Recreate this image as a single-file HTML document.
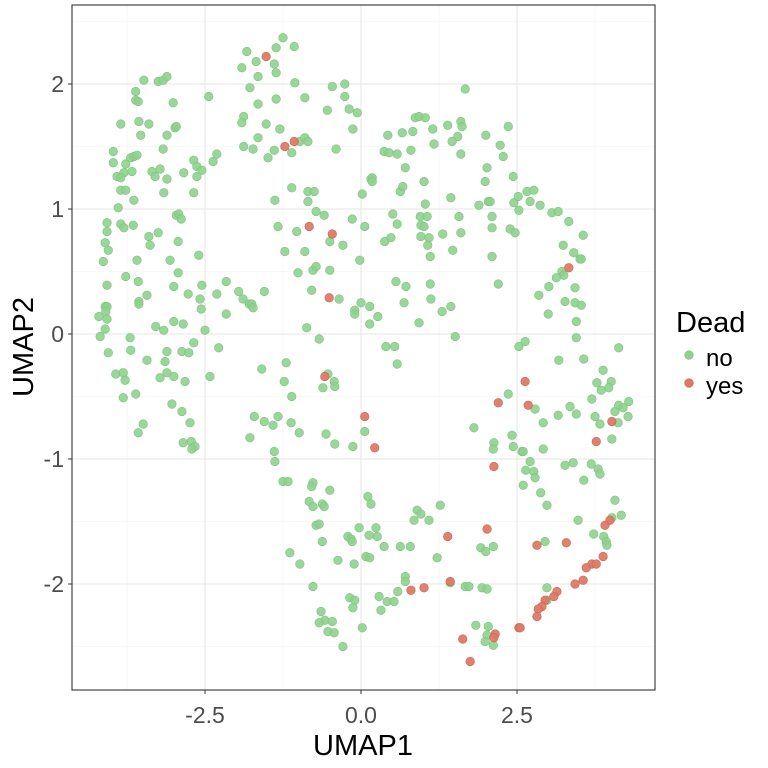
<!DOCTYPE html>
<html><head><meta charset="utf-8"><style>
html,body{margin:0;padding:0;background:#fff;}
svg{display:block;font-family:"Liberation Sans",Arial,sans-serif;}
</style></head><body>
<svg id="chart" width="768" height="768" viewBox="0 0 768 768" xmlns="http://www.w3.org/2000/svg">
<rect x="0" y="0" width="768" height="768" fill="#fff"/>
<g id="grid"></g>
<g id="points"></g>
<rect x="72" y="5" width="583" height="685" fill="none" stroke="#333" stroke-width="1.1"/>
<g id="axes"></g>
<text x="363" y="755" font-size="29" text-anchor="middle" fill="#000">UMAP1</text>
<text transform="translate(33,347) rotate(-90)" font-size="29" text-anchor="middle" fill="#000">UMAP2</text>
<g>
<text x="676" y="332" font-size="29" fill="#000">Dead</text>
<circle cx="689" cy="355" r="4.3" fill="#8ed28e" stroke="#7cc27c" stroke-width="0.6"/>
<text x="706" y="366" font-size="24" fill="#000">no</text>
<circle cx="689" cy="383" r="4.3" fill="#dc7a66" stroke="#cc6452" stroke-width="0.6"/>
<text x="706" y="394" font-size="24" fill="#000">yes</text>
</g>
</svg>
<script>
const xTicks=[-2.5,0,2.5];
const xTickLabels=["-2.5","0.0","2.5"];
const yTicks=[-2,-1,0,1,2];
const yTickLabels=["-2","-1","0","1","2"];
const xMinor=[-3.75,-1.25,1.25,3.75];
const yMinor=[-2.5,-1.5,-0.5,0.5,1.5,2.5];
const deadNo=[[-1.25,2.37],[-1.83,2.26],[-1.36,2.29],[-1.07,2.30],[-1.68,2.18],[-1.39,2.16],[-1.91,2.13],[-1.65,2.06],[-1.36,2.09],[-1.06,2.01],[-1.78,1.97],[-3.48,2.03],[-3.25,2.02],[-3.17,2.03],[-3.11,2.06],[-3.61,1.94],[-3.61,1.87],[-3.57,1.86],[-3.01,1.85],[-2.44,1.90],[-1.36,1.88],[-1.65,1.84],[-0.90,1.89],[-0.46,1.98],[-0.26,2.00],[-0.26,1.90],[-0.54,1.79],[-0.19,1.80],[-0.06,1.77],[-3.85,1.68],[-3.56,1.70],[-3.40,1.68],[-3.53,1.59],[-3.11,1.59],[-2.98,1.65],[-2.96,1.66],[-1.88,1.74],[-1.91,1.69],[-1.52,1.68],[-1.30,1.64],[-0.13,1.64],[-1.65,1.57],[-1.88,1.50],[-1.73,1.48],[-1.39,1.47],[-0.98,1.54],[-0.90,1.57],[-0.85,1.54],[-1.11,1.45],[-1.49,1.41],[-0.40,1.48],[-3.97,1.46],[-3.97,1.37],[-3.17,1.48],[-3.77,1.36],[-3.69,1.41],[-3.64,1.42],[-3.59,1.43],[-3.67,1.30],[-3.80,1.29],[-3.91,1.26],[-3.85,1.25],[-3.35,1.30],[-3.30,1.26],[-3.22,1.32],[-3.11,1.24],[-2.84,1.29],[-2.68,1.39],[-2.63,1.34],[-2.55,1.31],[-2.63,1.26],[-2.37,1.38],[-2.31,1.44],[-3.85,1.15],[-3.77,1.15],[-3.64,1.07],[-3.16,1.13],[-2.68,1.13],[-1.11,1.17],[-1.38,1.07],[-0.85,1.14],[-0.75,1.14],[-0.85,1.06],[0.02,1.12],[0.16,1.24],[-3.89,1.01],[-4.07,0.89],[-4.07,0.82],[-3.85,0.88],[-3.80,0.85],[-3.65,0.87],[-2.96,0.95],[-2.92,0.96],[-2.88,0.92],[-0.72,0.98],[-0.59,0.95],[-0.14,0.92],[0.06,0.86],[-1.33,0.86],[-1.03,0.82],[-0.50,0.74],[-0.29,0.71],[-4.10,0.73],[-4.05,0.67],[-3.40,0.78],[-3.25,0.81],[-3.38,0.71],[-2.93,0.74],[-4.13,0.58],[-3.59,0.59],[-3.06,0.59],[-2.60,0.63],[-1.22,0.66],[-0.90,0.66],[-0.02,0.59],[-1.01,0.49],[-0.77,0.51],[-0.72,0.54],[-0.50,0.51],[-4.07,0.39],[-3.77,0.46],[-3.57,0.42],[-2.93,0.49],[-3.00,0.38],[-2.55,0.39],[-2.16,0.42],[-1.96,0.34],[-1.55,0.34],[-2.77,0.32],[-2.31,0.32],[-3.43,0.31],[-3.56,0.26],[-3.56,0.24],[-2.58,0.28],[-2.56,0.20],[-1.89,0.28],[-1.79,0.24],[-1.75,0.24],[-1.73,0.21],[-2.16,0.16],[-0.79,0.35],[-0.35,0.28],[0.00,0.25],[-0.10,0.19],[-0.10,0.16],[0.14,0.22],[-4.10,0.22],[-4.07,0.22],[-4.09,0.18],[-4.07,0.12],[-4.20,0.14],[-4.10,0.04],[-4.18,-0.02],[-3.29,0.06],[-3.16,0.03],[-3.00,0.10],[-2.85,0.08],[-2.50,0.03],[-0.87,0.05],[-0.67,-0.04],[0.14,0.08],[-3.70,-0.03],[-3.69,-0.13],[-4.05,-0.15],[-3.11,-0.14],[-2.87,-0.14],[-2.76,-0.15],[-2.68,-0.07],[-2.28,-0.11],
[1.67,1.96],[0.87,1.73],[0.93,1.74],[1.03,1.73],[1.15,1.64],[1.39,1.67],[1.60,1.70],[1.62,1.66],[1.55,1.58],[1.46,1.54],[1.17,1.52],[0.83,1.62],[0.66,1.61],[0.43,1.59],[0.37,1.46],[0.45,1.45],[0.58,1.44],[0.80,1.47],[0.71,1.33],[1.60,1.44],[2.00,1.59],[2.36,1.66],[2.23,1.51],[2.28,1.42],[2.02,1.33],[1.99,1.22],[2.44,1.26],[0.18,1.25],[0.18,1.22],[0.63,1.14],[0.67,1.18],[1.01,1.22],[1.03,1.04],[1.44,1.09],[1.89,1.03],[2.04,1.06],[2.07,1.06],[2.45,1.05],[2.52,1.10],[2.66,1.14],[2.77,1.15],[2.71,1.06],[2.87,1.03],[2.53,0.99],[3.06,0.97],[3.16,0.98],[3.33,0.90],[3.56,0.79],[0.51,0.96],[0.58,0.88],[0.95,0.94],[1.06,0.94],[0.96,0.87],[1.01,0.86],[1.57,0.94],[1.60,0.81],[1.31,0.80],[2.10,0.94],[2.10,0.85],[2.39,0.84],[2.47,0.81],[0.38,0.74],[0.48,0.77],[0.96,0.78],[1.09,0.77],[1.07,0.71],[1.11,0.62],[1.47,0.67],[2.10,0.62],[3.24,0.71],[3.41,0.65],[3.51,0.60],[3.53,0.60],[3.22,0.50],[3.25,0.47],[3.13,0.45],[3.01,0.38],[2.85,0.31],[3.43,0.37],[3.27,0.26],[3.43,0.25],[3.53,0.23],[3.00,0.16],[3.45,0.10],[3.45,-0.03],[0.56,0.42],[0.72,0.38],[1.11,0.40],[1.12,0.28],[0.69,0.25],[0.27,0.14],[0.93,0.09],[1.30,0.18],[1.44,0.22],[1.51,-0.02],[2.20,0.40],[2.63,-0.06],[2.53,-0.10],[0.40,-0.10],[0.54,-0.10],[4.13,-0.11],[3.17,-0.21],[3.57,-0.20],
[-3.43,-0.21],[-3.14,-0.22],[-3.93,-0.32],[-3.81,-0.31],[-3.78,-0.37],[-3.22,-0.35],[-3.11,-0.31],[-3.00,-0.34],[-2.82,-0.38],[-2.42,-0.34],[-3.81,-0.51],[-3.61,-0.48],[-3.03,-0.56],[-2.87,-0.62],[-2.74,-0.71],[-3.49,-0.72],[-3.57,-0.79],[-2.85,-0.87],[-2.72,-0.86],[-2.66,-0.90],[-2.71,-0.92],[-1.59,-0.28],[-1.20,-0.23],[-1.23,-0.38],[-1.11,-0.50],[-0.53,-0.32],[-0.43,-0.38],[-0.42,-0.42],[-0.61,-0.43],[0.06,-0.78],[-1.71,-0.66],[-1.55,-0.70],[-1.41,-0.73],[-1.33,-0.66],[-1.12,-0.71],[-0.99,-0.79],[-1.78,-0.83],[-1.39,-0.94],[-1.38,-1.02],[-0.56,-0.80],[-0.42,-0.88],[-0.13,-0.90],[-1.25,-1.18],[-1.17,-1.18],[-0.77,-1.19],[-0.79,-1.22],[-0.50,-1.25],[-0.83,-1.34],[-0.77,-1.38],[-0.62,-1.36],[-0.59,-1.38],[0.11,-1.30],[0.16,-1.36],[-0.72,-1.53],[-0.67,-1.52],[-0.62,-1.66],[-0.03,-1.55],[0.13,-1.61],[-0.21,-1.62],[-0.16,-1.64],[-0.14,-1.66],[-1.14,-1.75],[-0.98,-1.84],[-0.37,-1.81],[-0.11,-1.84],[0.08,-1.78],[0.14,-1.79],[-0.77,-2.02],[-0.18,-2.11],[-0.10,-2.13],[-0.13,-2.19],[-0.64,-2.22],[-0.58,-2.29],[-0.46,-2.30],[-0.67,-2.31],[-0.53,-2.38],[-0.43,-2.39],[0.02,-2.35],[-0.29,-2.50],
[0.58,-0.24],[3.88,-0.29],[3.78,-0.39],[4.01,-0.38],[3.97,-0.43],[3.85,-0.45],[3.70,-0.52],[4.13,-0.57],[4.20,-0.59],[4.29,-0.54],[4.07,-0.62],[4.28,-0.66],[4.12,-0.71],[3.83,-0.72],[3.75,-0.66],[4.02,-0.84],[2.36,-0.48],[2.79,-0.60],[2.92,-0.71],[3.16,-0.65],[3.35,-0.58],[3.45,-0.64],[1.81,-0.75],[2.13,-0.87],[2.12,-0.92],[2.42,-0.81],[2.44,-0.90],[2.58,-0.94],[2.60,-0.94],[2.92,-0.92],[2.71,-1.02],[2.64,-1.09],[2.77,-1.10],[2.79,-1.15],[2.60,-1.21],[2.88,-1.27],[2.98,-1.37],[3.27,-1.05],[3.40,-1.03],[3.69,-1.04],[3.80,-1.08],[3.83,-1.12],[3.57,-1.17],[4.07,-1.33],[4.02,-1.47],[4.17,-1.45],[3.48,-1.49],[3.73,-1.60],[3.89,-1.62],[3.93,-1.66],[3.94,-1.69],[2.95,-1.66],[0.24,-1.55],[0.26,-1.62],[0.37,-1.70],[0.63,-1.70],[0.79,-1.70],[0.85,-1.49],[0.90,-1.41],[0.96,-1.44],[1.09,-1.49],[1.27,-1.37],[1.22,-1.79],[1.92,-1.71],[2.00,-1.74],[2.12,-1.70],[0.71,-1.94],[0.71,-1.98],[0.59,-2.06],[0.29,-2.10],[0.42,-2.14],[0.53,-2.14],[0.32,-2.21],[1.43,-1.99],[1.67,-2.02],[1.73,-2.02],[1.94,-2.03],[2.02,-2.04],[2.98,-2.03],[2.98,-2.13],[1.84,-2.33],[2.04,-2.34],[2.02,-2.41],[1.99,-2.46],[2.12,-2.49]];
const deadYes=[[-1.52,2.22],[-1.22,1.50],[-1.07,1.54],[-0.83,0.86],[-0.46,0.80],[-0.51,0.29],[-0.58,-0.34],[0.06,-0.66],[0.22,-0.91],[3.33,0.53],[2.63,-0.38],[2.20,-0.55],[2.68,-0.57],[4.02,-0.70],[3.77,-0.86],[2.13,-1.06],[3.99,-1.49],[3.91,-1.53],[3.88,-1.78],[3.70,-1.84],[3.77,-1.84],[3.61,-1.87],[3.56,-1.97],[3.43,-2.00],[3.29,-1.67],[2.82,-1.69],[2.02,-1.56],[1.39,-1.62],[0.80,-2.05],[1.01,-2.03],[1.43,-1.98],[3.14,-2.06],[3.09,-2.10],[2.95,-2.13],[2.90,-2.18],[2.84,-2.20],[2.82,-2.26],[2.53,-2.35],[2.55,-2.35],[2.15,-2.40],[2.13,-2.43],[1.63,-2.44],[1.75,-2.62]];

const NS='http://www.w3.org/2000/svg';
const X0=72,X1=655,Y0=5,Y1=690;
function sx(v){return 361+v*62.4;}
function sy(v){return 334-v*125;}
const grid=document.getElementById('grid');
const axes=document.getElementById('axes');
const pts=document.getElementById('points');
function mk(tag,parent){const e=document.createElementNS(NS,tag);parent.appendChild(e);return e;}
xMinor.forEach(v=>{const l=mk('line',grid);


l.setAttribute('x1',sx(v));l.setAttribute('x2',sx(v));l.setAttribute('y1',Y0);l.setAttribute('y2',Y1);l.setAttribute('stroke','#f2f2f2');l.setAttribute('stroke-width','0.6');});
yMinor.forEach(v=>{const l=mk('line',grid);


l.setAttribute('x1',X0);l.setAttribute('x2',X1);l.setAttribute('y1',sy(v));l.setAttribute('y2',sy(v));l.setAttribute('stroke','#f2f2f2');l.setAttribute('stroke-width','0.6');});
xTicks.forEach((v,i)=>{const l=mk('line',grid);


l.setAttribute('x1',sx(v));l.setAttribute('x2',sx(v));l.setAttribute('y1',Y0);l.setAttribute('y2',Y1);l.setAttribute('stroke','#e6e6e6');l.setAttribute('stroke-width','1.1');
const t=mk('line',axes);


t.setAttribute('x1',sx(v));t.setAttribute('x2',sx(v));t.setAttribute('y1',Y1);t.setAttribute('y2',Y1+4);t.setAttribute('stroke','#333');
const tx=mk('text',axes);


tx.setAttribute('x',sx(v));tx.setAttribute('y',723);tx.setAttribute('font-size','23');tx.setAttribute('text-anchor','middle');tx.setAttribute('fill','#4d4d4d');tx.textContent=xTickLabels[i];});
yTicks.forEach((v,i)=>{const l=mk('line',grid);


l.setAttribute('x1',X0);l.setAttribute('x2',X1);l.setAttribute('y1',sy(v));l.setAttribute('y2',sy(v));l.setAttribute('stroke','#e6e6e6');l.setAttribute('stroke-width','1.1');
const t=mk('line',axes);


t.setAttribute('x1',X0-4);t.setAttribute('x2',X0);t.setAttribute('y1',sy(v));t.setAttribute('y2',sy(v));t.setAttribute('stroke','#333');
const tx=mk('text',axes);


tx.setAttribute('x',64);tx.setAttribute('y',sy(v)+8);tx.setAttribute('font-size','23');tx.setAttribute('text-anchor','end');tx.setAttribute('fill','#4d4d4d');tx.textContent=yTickLabels[i];});
deadNo.forEach(p=>{const c=mk('circle',pts);


c.setAttribute('cx',sx(p[0]));c.setAttribute('cy',sy(p[1]));c.setAttribute('r','4.3');c.setAttribute('fill','#8ed28e');c.setAttribute('fill-opacity','0.9');c.setAttribute('stroke','#7cc27c');c.setAttribute('stroke-width','0.6');});
deadYes.forEach(p=>{const c=mk('circle',pts);


c.setAttribute('cx',sx(p[0]));c.setAttribute('cy',sy(p[1]));c.setAttribute('r','4.3');c.setAttribute('fill','#dc7a66');c.setAttribute('fill-opacity','0.95');c.setAttribute('stroke','#cc6452');c.setAttribute('stroke-width','0.6');});
</script>
</body></html>
